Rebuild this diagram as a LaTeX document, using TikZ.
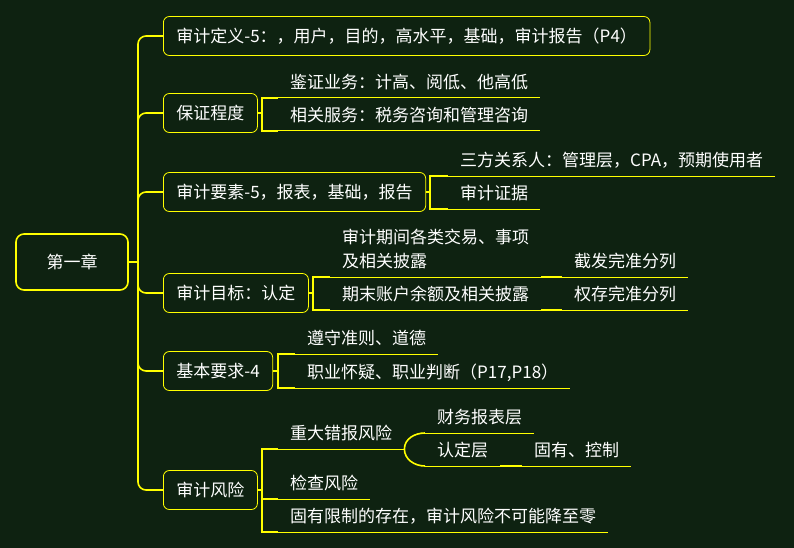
\documentclass[tikz,border=0pt]{standalone}
\usepackage{fontspec}
\setmainfont{Noto Sans CJK SC}
\usetikzlibrary{positioning}
\definecolor{bgc}{HTML}{0E2211}
\definecolor{ylw}{HTML}{FFFF00}

\begin{document}
\begin{tikzpicture}[
    x=1pt, y=-1pt,
    every node/.style={font=\fontsize{17}{24}\selectfont, text=white},
    rootbox/.style={rectangle, draw=ylw, line width=1.6pt, rounded corners=8pt,
                    minimum width=112pt, minimum height=56pt},
    topicbox/.style={rectangle, draw=ylw, line width=0.8pt, rounded corners=6pt,
                     minimum height=39pt, inner xsep=13pt, anchor=west},
    leaf/.style={anchor=south west, inner xsep=12pt, inner ysep=6.5pt,
                 text height=13pt, text depth=3pt},
    trunk/.style={draw=ylw, line width=1.6pt, rounded corners=8pt},
    brk/.style={draw=ylw, line width=1.6pt},
    uline/.style={draw=ylw, line width=1pt},
]

\fill[bgc] (0,0) rectangle (794,548);
\useasboundingbox (0,0) rectangle (794,548);

\node[rootbox] (root) at (72,262) {第一章};

\node[topicbox] (b1) at (163,36)  {审计定义-5：，用户，目的，高水平，基础，审计报告（P4）};
\node[topicbox] (b2) at (163,113) {保证程度};
\node[topicbox] (b3) at (163,192) {审计要素-5，报表，基础，报告};
\node[topicbox] (b4) at (163,293) {审计目标：认定};
\node[topicbox] (b5) at (163,371) {基本要求-4};
\node[topicbox] (b6) at (163,490) {审计风险};

% trunk
\coordinate (hub) at (138,262);
\draw[trunk] (root.east) -- (hub);
\foreach \b in {b1,b2,b3,b4,b5,b6}
    \draw[trunk] (hub) |- (\b.west);

\coordinate[right=4pt of b2] (c2);
\coordinate[right=4pt of b3] (c3);
\coordinate[right=4pt of b4] (c4);
\coordinate[right=5pt of b5] (c5);
\coordinate[right=4pt of b6] (c6);

\node[leaf] (k21) at (278,98)  {鉴证业务：计高、阅低、他高低};
\node[leaf] (k22) at (278,131) {相关服务：税务咨询和管理咨询};

\node[leaf] (k31) at (448,176) {三方关系人：管理层，CPA，预期使用者};
\node[leaf] (k32) at (448,209) {审计证据};

\node[leaf, align=left, text height=37pt] (k41) at (330,277) {审计期间各类交易、事项\\及相关披露};
\node[leaf] (k42)  at (330,310) {期末账户余额及相关披露};
\node[leaf] (k411) at (562,277) {截发完准分列};
\node[leaf] (k421) at (562,310) {权存完准分列};

\node[leaf] (k51) at (295,354) {遵守准则、道德};
\node[leaf] (k52) at (295,388) {职业怀疑、职业判断（P17,P18）};

\node[leaf] (k61) at (278,449) {重大错报风险};
\node[leaf] (k62) at (278,499) {检查风险};
\node[leaf] (k63) at (278,532) {固有限制的存在，审计风险不可能降至零};
\node[leaf] (k611)  at (425,433) {财务报表层};
\node[leaf] (k612)  at (425,466) {认定层};
\node[leaf] (k6121) at (522,466) {固有、控制};

% brackets
\draw[brk] (b2.east) -- (c2);
\draw[brk] (k21.south west) -| (c2) |- (k22.south west);
\draw[brk] (b3.east) -- (c3);
\draw[brk] (k31.south west) -| (c3) |- (k32.south west);
\draw[brk] (b4.east) -- (c4);
\draw[brk] (k41.south west) -| (c4) |- (k42.south west);
\draw[brk] (b5.east) -- (c5);
\draw[brk] (k51.south west) -| (c5) |- (k52.south west);
\draw[brk] (b6.east) -- (c6);
\draw[brk] (k61.south west) -| (c6) |- (k63.south west);
\draw[brk] (c6 |- k62.south) -- (k62.south west);
\draw[brk] (k611.south west) to[out=180,in=90] (k61.south east)
                             to[out=-90,in=180] (k612.south west);

\draw[brk] (k41.south east)  -- (k411.south west);
\draw[brk] (k42.south east)  -- (k421.south west);
\draw[brk] (k612.south east) -- (k6121.south west);

% underlines
\foreach \k in {k21,k22,k31,k32,k41,k42,k411,k421,k51,k52,k61,k62,k63,k611,k612,k6121}
    \draw[uline] (\k.south west) -- (\k.south east);

\end{tikzpicture}
\end{document}
